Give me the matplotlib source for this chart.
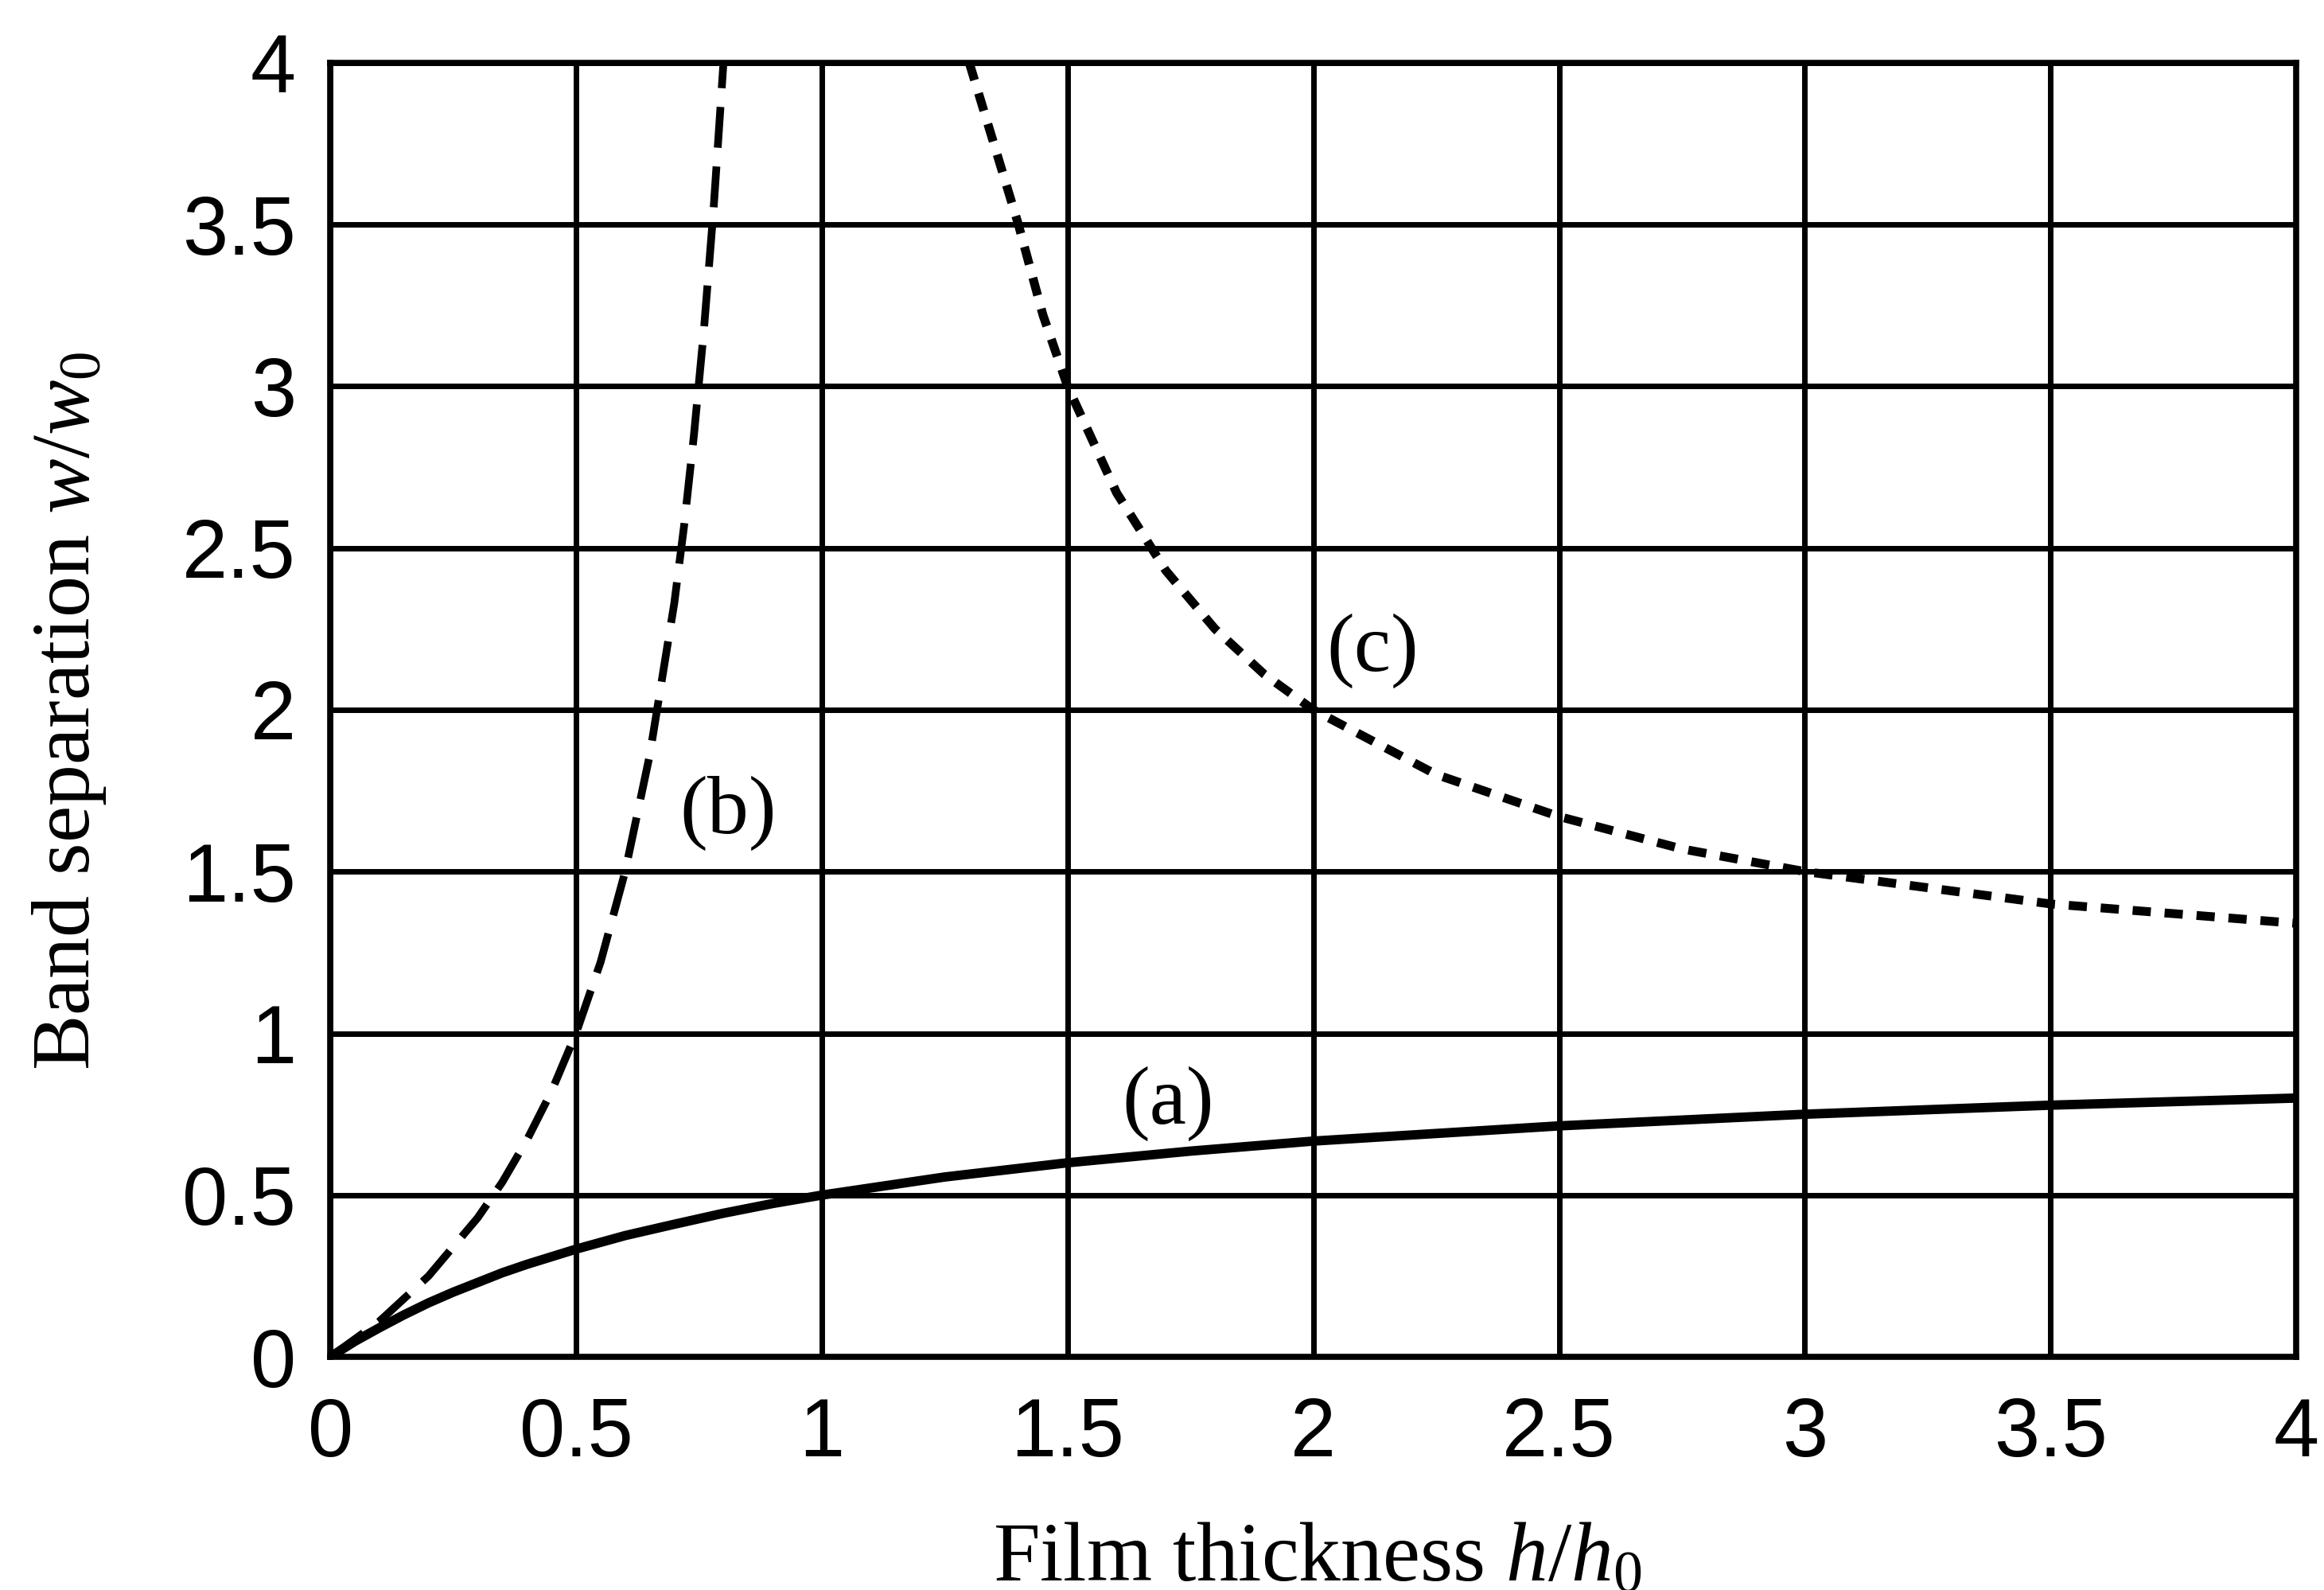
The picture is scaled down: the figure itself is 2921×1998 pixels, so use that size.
## Band separation vs film thickness, three curves (a), (b), (c) on a heavy black grid
import matplotlib
matplotlib.use("Agg")
import matplotlib.pyplot as plt

plt.rcParams['font.family'] = ['Liberation Sans', 'DejaVu Sans']
plt.rcParams['mathtext.fontset'] = 'custom'
plt.rcParams['mathtext.rm'] = 'Liberation Serif'
plt.rcParams['mathtext.it'] = 'Liberation Serif:italic'
plt.rcParams['lines.scale_dashes'] = False

# curve (a): solid
h_a = [0, 0.05, 0.1, 0.15, 0.2, 0.25, 0.3, 0.35, 0.4, 0.5, 0.6, 0.7, 0.8, 0.9, 1.0, 1.25, 1.5,
       1.75, 2.0, 2.5, 3.0, 3.5, 4.0]
w_a = [0, 0.048, 0.09, 0.13, 0.167, 0.2, 0.23, 0.26, 0.286, 0.333, 0.375, 0.41, 0.444, 0.474,
       0.5, 0.556, 0.6, 0.636, 0.667, 0.714, 0.75, 0.778, 0.8]

# curve (b): long dashes
h_b = [0, 0.1, 0.2, 0.3, 0.35, 0.4, 0.45, 0.5, 0.55, 0.6, 0.65, 0.7, 0.72, 0.74, 0.76, 0.78, 0.80]
w_b = [0, 0.11, 0.25, 0.43, 0.54, 0.67, 0.82, 1.0, 1.22, 1.5, 1.86, 2.33, 2.57, 2.85, 3.17, 3.55, 4.0]

# curve (c): short dashes
h_c = [1.30, 1.35, 1.4, 1.45, 1.5, 1.6, 1.7, 1.8, 1.9, 2.0, 2.25, 2.5, 2.75, 3.0, 3.5, 4.0]
w_c = [4.0, 3.75, 3.5, 3.22, 3.0, 2.67, 2.43, 2.25, 2.11, 2.0, 1.8, 1.67, 1.57, 1.5, 1.4, 1.34]

ticks = [0, 0.5, 1, 1.5, 2, 2.5, 3, 3.5, 4]
tick_labels = ['0', '0.5', '1', '1.5', '2', '2.5', '3', '3.5', '4']

# curve labels: (text, h, w)
curve_labels = [('(a)', 1.705, 0.72), ('(b)', 0.81, 1.62), ('(c)', 2.12, 2.12)]

fig = plt.figure(figsize=(29.21, 19.98), dpi=100)
ax = fig.add_axes([0.1421, 0.1466, 0.846, 0.814])

ax.plot(h_a, w_a, color='black', lw=8.5, solid_capstyle='butt', solid_joinstyle='round')
ax.plot(h_b, w_b, color='black', lw=7, linestyle=(0, (37, 17)), dash_capstyle='butt')
ax.plot(h_c, w_c, color='black', lw=8, linestyle=(0, (16.5, 12.5)), dash_capstyle='butt')

for txt, x, y in curve_labels:
    ax.text(x, y, txt, ha='center', va='baseline', fontsize=75,
            family='Liberation Serif', color='black')

ax.set_xlim(0, 4)
ax.set_ylim(0, 4)
ax.set_xticks(ticks)
ax.set_yticks(ticks)
ax.set_xticklabels(tick_labels)
ax.set_yticklabels(tick_labels)
ax.tick_params(axis='both', length=0, labelsize=74, colors='black')
ax.tick_params(axis='x', pad=36)
ax.tick_params(axis='y', pad=31)
ax.grid(True, color='black', lw=5.0)
for sp in ax.spines.values():
    sp.set_linewidth(5.5)
    sp.set_color('black')

fig.text(0.567, 0.0055, 'Film thickness $h/h_0$', ha='center', va='baseline',
         fontsize=76, family='Liberation Serif')
fig.text(0.0383, 0.553, 'Band separation $w/w_0$', ha='center', va='baseline',
         rotation=90, rotation_mode='anchor', fontsize=75, family='Liberation Serif')

fig.savefig('out.png', dpi=100, facecolor='white')
